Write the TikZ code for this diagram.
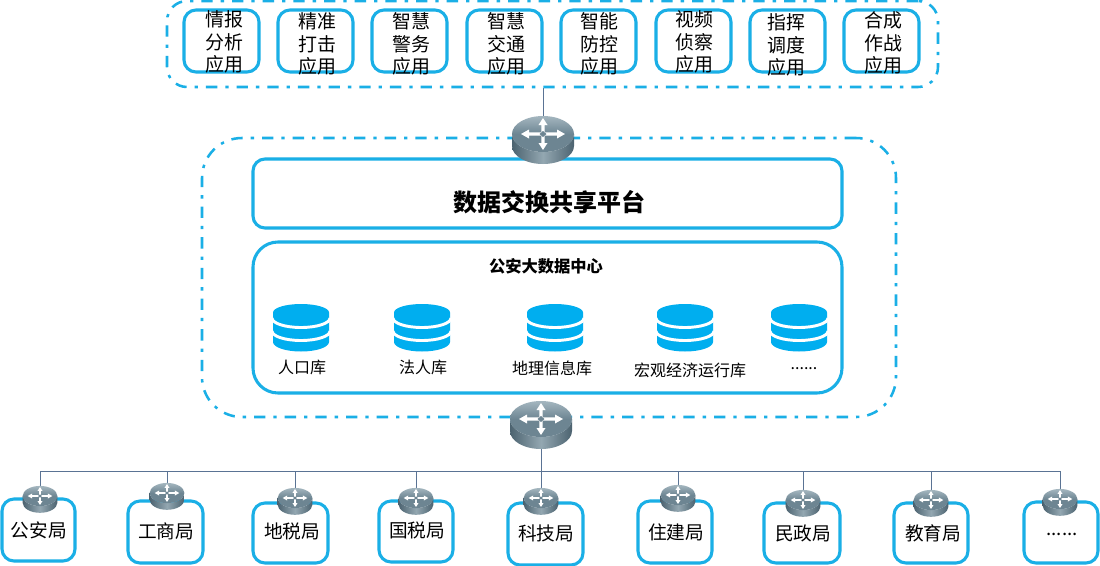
\documentclass[tikz,border=0pt]{standalone}
\usepackage{fontspec}
\setmainfont{Noto Sans CJK SC}
\usetikzlibrary{backgrounds}
\definecolor{linkblue}{HTML}{1AAFE6}
\definecolor{dbblue}{HTML}{00AEEF}
\definecolor{wire}{HTML}{5A7394}
\definecolor{capLight}{HTML}{A4B6BF}
\definecolor{capDark}{HTML}{6D8592}
\definecolor{sideDark}{HTML}{4C6370}
\definecolor{sideLight}{HTML}{93A7B1}
\tikzset{
  bluebox/.style={draw=linkblue,line width=2.3pt,fill=white,inner sep=0pt},
  dashframe/.style={draw=linkblue,line width=1.9pt,inner sep=0pt,
    dash pattern=on 8.5pt off 6pt on 2.5pt off 6pt},
  wireline/.style={draw=wire,line width=.6pt},
  apptext/.style={align=center,font=\fontsize{14.2}{16.8}\selectfont,inner sep=0pt},
  officetext/.style={font=\fontsize{14}{16}\selectfont,inner sep=0pt},
  dbtext/.style={font=\fontsize{12}{14}\selectfont,inner sep=0pt},
  routerhit/.style={transform shape,inner sep=0pt,minimum width=46pt,minimum height=36pt},
}
\newcommand{\moredots}{......}
% size in px, centred box: name, x0, y0, x1, y1, corner radius, style
\newcommand{\pxbox}[7]{%
  \node[#7,rounded corners=#6*.75pt,minimum width={(#4-#2)*.75pt},minimum height={(#5-#3)*.75pt}]
    (#1) at ({(#2+#4)/2},{(#3+#5)/2}) {};}
% switch puck: name, x, y of the cap centre, scale
\newcommand{\switchpuck}[4]{%
  \begin{scope}[shift={(#2,#3)},scale=#4]
    \node[routerhit] (#1) at (0,6) {};
    \shade[left color=sideDark,right color=sideDark,middle color=sideLight]
      (-31,0) -- (-31,12) arc[start angle=180,end angle=0,x radius=31,y radius=18]
      -- (31,0) arc[start angle=0,end angle=180,x radius=31,y radius=18] -- cycle;
    \shade[top color=capLight,bottom color=capDark,middle color=capDark]
      (0,0) ellipse[x radius=31,y radius=18];
    \fill[white] (-22,0) -- (-14,-4.5) -- (-14,-1.6) -- (14,-1.6) -- (14,-4.5) -- (22,0)
      -- (14,4.5) -- (14,1.6) -- (-14,1.6) -- (-14,4.5) -- cycle;
    \fill[white] (0,-16) -- (-4.5,-9) -- (-1.6,-9) -- (-1.6,9) -- (-4.5,9) -- (0,16)
      -- (4.5,9) -- (1.6,9) -- (1.6,-9) -- (4.5,-9) -- cycle;
    \fill[capDark] (0,-3) -- (3.5,0) -- (0,3) -- (-3.5,0) -- cycle;
  \end{scope}}
% database stack: x of the centre
\newcommand{\datastack}[2]{%
  \begin{scope}[shift={(#2,0)}]
    \coordinate (#1) at (0,328);
    \fill[dbblue] (-28,312.5) arc[start angle=180,end angle=360,x radius=28,y radius=8.5]
      -- (28,342) arc[start angle=0,end angle=180,x radius=28,y radius=9.5] -- cycle;
    \draw[white,line width=2.2pt] (-29,318) arc[start angle=180,end angle=0,x radius=29,y radius=9.5];
    \draw[white,line width=2.2pt] (-29,331) arc[start angle=180,end angle=0,x radius=29,y radius=9.5];
  \end{scope}}
\begin{document}
\begin{tikzpicture}[x=.75pt,y=-.75pt]
  \useasboundingbox (0,0) rectangle (1100,565);

  % dash-dotted enclosures
  \pxbox{appframe}{167}{1}{938}{87}{20}{dashframe}
  \pxbox{coreframe}{202}{138}{896}{417}{40}{dashframe}

  % application row
  \foreach \n/\xa/\tx/\ty/\txt in {
    a1/184/224/42/{情报\\分析\\应用},
    a2/278/317/44/{精准\\打击\\应用},
    a3/372/411/44/{智慧\\警务\\应用},
    a4/467/506/44/{智慧\\交通\\应用},
    a5/561/599/44/{智能\\防控\\应用},
    a6/656/694/42/{视频\\侦察\\应用},
    a7/750/786/45/{指挥\\调度\\应用},
    a8/844/883/43/{合成\\作战\\应用}}{
    \pgfmathsetmacro{\xb}{\xa+75}
    \pxbox{\n}{\xa}{10}{\xb}{72}{12}{bluebox}
    \node[apptext] (\n t) at (\tx,\ty) {\txt};
  }

  % platform and data centre panels
  \pxbox{platform}{253}{159}{842}{228}{12}{bluebox}
  \node[font=\fontsize{18}{22}\selectfont\bfseries,inner sep=0pt] (platformt) at (549,202) {数据交换共享平台};
  \pxbox{datacentre}{253}{242}{842}{393}{25}{bluebox}
  \node[font=\fontsize{12.2}{15}\selectfont\bfseries,inner sep=0pt] (datacentret) at (546,266) {公安大数据中心};

  \datastack{db1}{301}
  \datastack{db2}{422}
  \datastack{db3}{555}
  \datastack{db4}{685}
  \datastack{db5}{799}
  \node[dbtext] (db1t) at (302,367) {人口库};
  \node[dbtext] (db2t) at (423,367) {法人库};
  \node[dbtext] (db3t) at (552,368) {地理信息库};
  \node[dbtext] (db4t) at (690,370) {宏观经济运行库};
  \node[dbtext] (db5t) at (804,369) {\moredots};

  % office row
  \foreach \n/\xa/\ya/\xb/\yb/\tx/\ty/\txt in {
    o1/2/499/75/561/39/530/公安局,
    o2/128/501/203/563/166/531/工商局,
    o3/253/503/328/563/292/531/地税局,
    o4/379/501/453/562/417/530/国税局,
    o5/508/503/583/565/546/533/科技局,
    o6/638/501/712/563/676/532/住建局,
    o7/764/503/840/563/803/533/民政局,
    o8/894/503/968/563/933/533/教育局,
    o9/1024/502/1098/563/1062/534/\moredots}{
    \pxbox{\n}{\xa}{\ya}{\xb}{\yb}{12}{bluebox}
    \node[officetext] (\n t) at (\tx,\ty) {\txt};
  }

  % switches
  \switchpuck{topswitch}{543}{134}{1}
  \switchpuck{hubswitch}{541}{419}{1}
  \foreach \n/\x/\y in {r1/40/496,r2/167/493,r3/295/498,r4/416/498,r5/541/498,
                        r6/678/495,r7/803/500,r8/931/500,r9/1060/499}{
    \switchpuck{\n}{\x}{\y}{.56}
  }

  % uplinks and the office bus, kept behind everything else
  \begin{pgfonlayer}{background}
    \fill[white] (0,0) rectangle (1100,565);
    \coordinate (bus) at (541,471);
    \draw[wireline] (topswitch.center) -- (topswitch.center |- appframe.south);
    \draw[wireline] (hubswitch.center) -- (r5.center);
    \foreach \n in {r1,r2,r3,r4,r6,r7,r8,r9}{
      \draw[wireline] (\n.center) |- (bus);
    }
  \end{pgfonlayer}
\end{tikzpicture}
\end{document}
